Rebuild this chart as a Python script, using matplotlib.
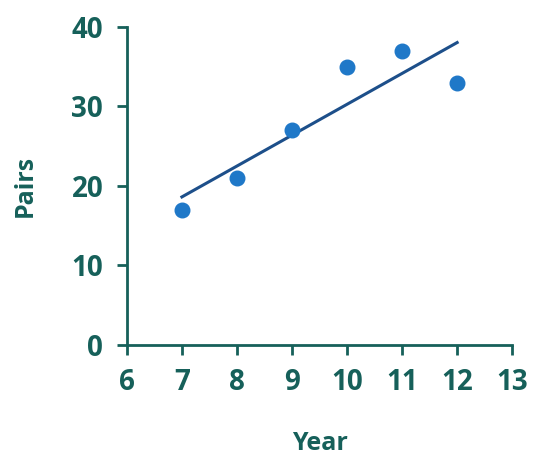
import numpy as np
import matplotlib.pyplot as plt

years = [7, 8, 9, 10, 11, 12]
pairs = [17, 21, 27, 35, 37, 33]
x_ticks = [6, 7, 8, 9, 10, 11, 12, 13]
y_ticks = [0, 10, 20, 30, 40]

TEAL = '#16605a'

plt.rcParams['font.family'] = ['Open Sans', 'DejaVu Sans']

fig = plt.figure(figsize=(5.33, 4.58), dpi=100)
ax = fig.add_axes([0.238, 0.247, 0.723, 0.694])

# least squares trend line
slope, intercept = np.polyfit(years, pairs, 1)
xs = np.array([years[0], years[-1]])
ax.plot(xs, slope * xs + intercept, color='#1d4f8a', lw=2.2, zorder=2)
ax.scatter(years, pairs, s=110, color='#1f78c8', zorder=3)

ax.set_xlim(6, 13)
ax.set_ylim(0, 40)
ax.set_xticks(x_ticks)
ax.set_yticks(y_ticks)

for s in ['top', 'right']:
    ax.spines[s].set_visible(False)
for s in ['left', 'bottom']:
    ax.spines[s].set_color(TEAL)
    ax.spines[s].set_linewidth(2)

ax.tick_params(colors=TEAL, width=2, length=7, labelsize=20, pad=10)
for lab in ax.get_xticklabels() + ax.get_yticklabels():
    lab.set_fontweight('bold')

ax.set_xlabel('Year', color=TEAL, fontsize=18, fontweight='bold', labelpad=24)
ax.set_ylabel('Pairs', color=TEAL, fontsize=18, fontweight='bold', labelpad=24)

fig.savefig('out.png', dpi=100)
